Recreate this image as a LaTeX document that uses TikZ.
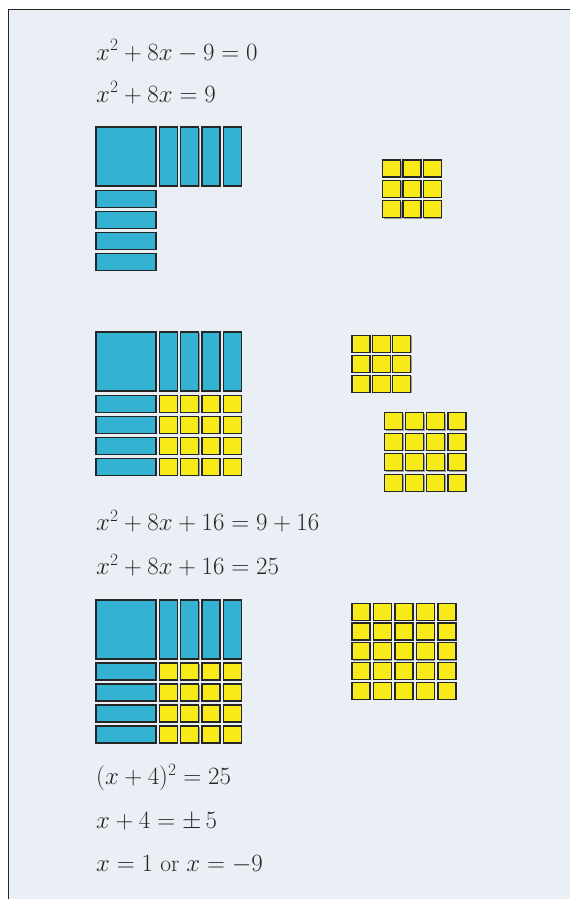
\documentclass[tikz,border=0pt]{standalone}
\usepackage{xcolor}
\usepackage{tikz}
\usetikzlibrary{shadows}

\definecolor{tileblue}{HTML}{33B2D1}
\definecolor{tileyellow}{HTML}{F7EA18}
\definecolor{panel}{HTML}{E9EFF4}
\definecolor{edge}{HTML}{262626}

\begin{document}
\begin{tikzpicture}[
  x=1pt, y=-1pt,
  tile/.style={draw=edge, line width=1.1pt, anchor=north west, inner sep=0pt, outer sep=0pt,
    drop shadow={shadow xshift=0.9pt, shadow yshift=-0.9pt, fill=black, opacity=0.35}},
  bigsq/.style={tile, fill=tileblue, minimum width=60pt, minimum height=59pt},
  vbar/.style={tile, fill=tileblue, minimum width=18pt, minimum height=59pt},
  hbar/.style={tile, fill=tileblue, minimum width=60pt, minimum height=17pt},
  unit/.style={tile, fill=tileyellow, minimum width=18pt, minimum height=17pt},
  eqn/.style={anchor=base west, inner sep=0pt, text=black!85, font=\fontsize{23.5}{28}\selectfont}
]
\useasboundingbox (0,0) rectangle (570,899);
\fill[panel] (8.5,9.5) rectangle (570,899);
\draw[edge, line width=1.3pt] (8.5,899) -- (8.5,9.5) -- (570,9.5);

\node[eqn] (eq-start) at (96,60) {$x^2 + 8x - 9 = 0$};
\node[eqn] (eq-move) at (96,102) {$x^2 + 8x = 9$};

\node[bigsq] (sq-a) at (96,127) {};
\foreach \i in {0,...,3} {
  \node[vbar] (vbar-a\i) at (159.3+21.33*\i,127) {};
  \node[hbar] (hbar-a\i) at (96,190.3+21*\i) {};
}
\foreach \i in {0,...,2}
  \foreach \j in {0,...,2}
    \node[unit] (nine-a\i\j) at (382.7+20.3*\i,160+20.3*\j) {};

\node[bigsq] (sq-b) at (96,332) {};
\foreach \i in {0,...,3} {
  \node[vbar] (vbar-b\i) at (159.3+21.33*\i,332) {};
  \node[hbar] (hbar-b\i) at (96,395.3+21*\i) {};
  \foreach \j in {0,...,3}
    \node[unit] (fill-b\i\j) at (159.3+21.33*\i,395.3+21*\j) {};
}
\foreach \i in {0,...,2}
  \foreach \j in {0,...,2}
    \node[unit] (nine-b\i\j) at (352+20.3*\i,335.3+20*\j) {};
\foreach \i in {0,...,3}
  \foreach \j in {0,...,3}
    \node[unit] (added-b\i\j) at (384.7+21.1*\i,412.7+20.6*\j) {};

\node[eqn] (eq-add) at (96,530.5) {$x^2 + 8x + 16 = 9 + 16$};
\node[eqn] (eq-sum) at (96,574.3) {$x^2 + 8x + 16 = 25$};

\node[bigsq] (sq-c) at (96,600) {};
\foreach \i in {0,...,3} {
  \node[vbar] (vbar-c\i) at (159.3+21.33*\i,600) {};
  \node[hbar] (hbar-c\i) at (96,663+21*\i) {};
  \foreach \j in {0,...,3}
    \node[unit] (fill-c\i\j) at (159.3+21.33*\i,663+21*\j) {};
}
\foreach \i in {0,...,4}
  \foreach \j in {0,...,4}
    \node[unit] (twentyfive-c\i\j) at (352+21.5*\i,603.3+19.7*\j) {};

\node[eqn] (eq-square) at (96,784.3) {$(x + 4)^2 = 25$};
\node[eqn] (eq-root) at (96,828.3) {$x + 4 = \pm\,5$};
\node[eqn] (eq-solve) at (96,871.7) {$x = 1$ or $x = -9$};
\end{tikzpicture}
\end{document}
